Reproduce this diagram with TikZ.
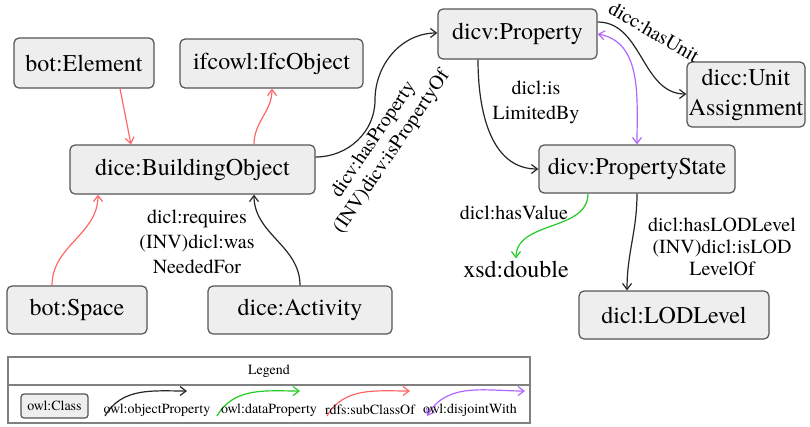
\documentclass[tikz,border=0pt]{standalone}
\usepackage{fontspec}
\IfFontExistsTF{texgyretermes-regular.otf}{\setmainfont{texgyretermes-regular.otf}}{\setmainfont{Liberation Serif}}
\usetikzlibrary{arrows.meta}
\definecolor{clsfill}{HTML}{EEEEEE}
\definecolor{clsborder}{HTML}{555555}
\definecolor{subred}{HTML}{FF6666}
\definecolor{datagreen}{HTML}{22CC22}
\definecolor{disjpurple}{HTML}{B266FF}
\definecolor{legendgray}{HTML}{808080}
\begin{document}
\begin{tikzpicture}[x=1pt,y=1pt,
  cls/.style={draw=clsborder, fill=clsfill, rounded corners=5pt, line width=1.2pt,
    inner sep=0pt, font=\fontsize{24}{29}\selectfont, align=center},
  lbl/.style={font=\fontsize{20}{24}\selectfont, align=center, inner sep=0pt},
  tip/.tip={Straight Barb[length=6pt,width=9pt]},
  objp/.style={draw=black!85, line width=1.2pt, -tip},
  datap/.style={draw=datagreen, line width=1.2pt, -tip},
  subc/.style={draw=subred, line width=1.2pt, -tip},
  disj/.style={draw=disjpurple, line width=1.2pt, tip-tip},
  legtxt/.style={font=\fontsize{14}{16}\selectfont, inner sep=0pt},
  legbox/.style={draw=legendgray, line width=1.5pt}
]
\useasboundingbox (0,0) rectangle (810,-426);

% classes
\node[cls, minimum width=140, minimum height=50] (el) at (84,-63) {bot:Element};
\node[cls, minimum width=183, minimum height=49] (ifc) at (271.5,-63.5) {ifcowl:IfcObject};
\node[cls, minimum width=245, minimum height=49] (bo) at (192.5,-169.5) {dice:BuildingObject};
\node[cls, minimum width=159, minimum height=50] (prop) at (517.5,-34) {dicv:Property};
\node[cls, minimum width=118, minimum height=65, font=\fontsize{24}{30}\selectfont] (unit) at (746,-94.5) {dicc:Unit\\Assignment};
\node[cls, minimum width=196, minimum height=48] (pstate) at (637,-169) {dicv:PropertyState};
\node[cls, minimum width=140, minimum height=48] (space) at (77,-310) {bot:Space};
\node[cls, minimum width=184, minimum height=48] (act) at (300,-310) {dice:Activity};
\node[font=\fontsize{24}{29}\selectfont, inner sep=2pt] (xsd) at (516,-269) {xsd:double};
\node[cls, minimum width=190, minimum height=48] (lod) at (674,-315) {dicl:LODLevel};

% subclass edges
\draw[subc] ([xshift=36pt]el.south) -- ([xshift=-61.5pt]bo.north);
\draw[subc] ([xshift=61.5pt]bo.north) to[out=90,in=-90] ([xshift=0.5pt]ifc.south);
\draw[subc] ([xshift=-25pt]space.north) to[out=90,in=-90] ([xshift=-94.5pt]bo.south);

% object properties
\draw[objp] (act.north) to[out=90,in=-90] ([xshift=61.5pt]bo.south);
\node[lbl, font=\fontsize{20}{25}\selectfont] (lreq) at (197,-242) {dicl:requires\\(INV)dicl:was\\NeededFor};

\coordinate (hasmid) at (375,-100);
\draw[objp] ([yshift=12.5pt]bo.east) to[out=0,in=-90] (hasmid) to[out=90,in=180] ([yshift=1pt]prop.west);
\node[lbl, rotate=56, font=\fontsize{20}{22}\selectfont] (lhas) at (383,-146) {dicv:hasProperty\\(INV)dicv:isPropertyOf};

\draw[objp] ([xshift=-39.5pt]prop.south) to[out=-90,in=180] (pstate.west);
\node[lbl, font=\fontsize{20}{25}\selectfont] (llim) at (536,-102) {dicl:is\\LimitedBy};

\draw[objp] ([yshift=12pt]prop.east) to[out=0,in=180] ([yshift=0.5pt]unit.west);
\node[lbl, rotate=-30] (lunit) at (654,-32) {dicc:hasUnit};

\draw[disj] (prop.east) to[out=-10,in=90] (pstate.north);

\draw[datap] ([xshift=-49pt]pstate.south) to[out=-90,in=90] (xsd.north);
\node[lbl] (lval) at (514,-213) {dicl:hasValue};

\draw[objp] (pstate.south) to[out=-90,in=90] ([xshift=-47pt]lod.north);
\node[lbl, font=\fontsize{20}{22}\selectfont] (llod) at (722,-247) {dicl:hasLODLevel\\(INV)dicl:isLOD\\LevelOf};

% legend
\node[legbox, minimum width=522, minimum height=66, inner sep=0pt] (leg) at (269,-390) {};
\coordinate (sepL) at (8,-385);
\coordinate (sepR) at (530,-385);
\draw[legendgray, line width=1.5pt] (sepL) -- (sepR);
\node[legtxt] (legtitle) at (269,-371) {Legend};
\node[cls, minimum width=67, minimum height=24, rounded corners=3pt, font=\fontsize{14}{16}\selectfont] (lcls) at (54.5,-406) {owl:Class};

\coordinate (a1) at (105,-416); \coordinate (b1) at (187,-391);
\draw[objp] (a1) to[out=60,in=180] (b1);
\node[legtxt] (t1) at (157,-410) {owl:objectProperty};

\coordinate (a2) at (217,-416); \coordinate (b2) at (300,-391);
\draw[datap] (a2) to[out=60,in=180] (b2);
\node[legtxt] (t2) at (269,-410) {owl:dataProperty};

\coordinate (a3) at (327,-416); \coordinate (b3) at (410,-391);
\draw[subc] (a3) to[out=60,in=180] (b3);
\node[legtxt] (t3) at (370,-410) {rdfs:subClassOf};

\coordinate (a4) at (427,-416); \coordinate (b4) at (525,-391);
\draw[disj] (a4) to[out=60,in=180] (b4);
\node[legtxt] (t4) at (470,-410) {owl:disjointWith};
\end{tikzpicture}
\end{document}
